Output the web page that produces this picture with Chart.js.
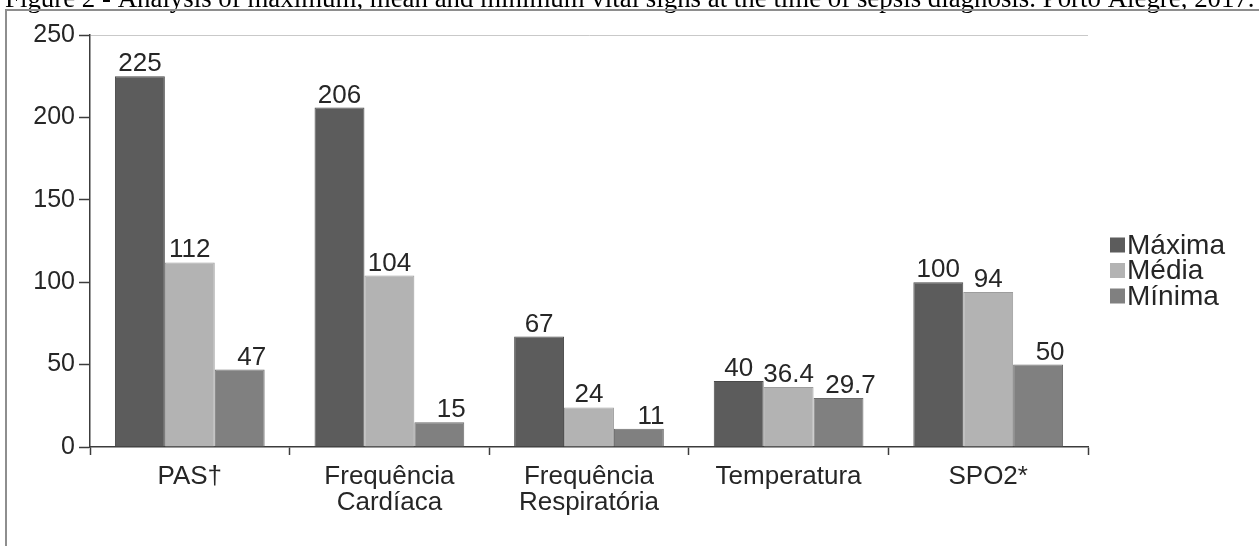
<!DOCTYPE html>
<html>
<head>
<meta charset="utf-8">
<script src="https://cdn.jsdelivr.net/npm/chart.js@4"></script>
<style>
  html, body { margin: 0; padding: 0; background: #fff; overflow: hidden; }
  #wrap { position: relative; width: 1259px; height: 546px; }
  canvas { display: block; }
</style>
</head>
<body>
<div id="wrap"><canvas id="c" width="1259" height="546"></canvas></div>
<script>
// Vital signs at sepsis diagnosis
const categories = [["PAS†"], ["Frequência", "Cardíaca"], ["Frequência", "Respiratória"], ["Temperatura"], ["SPO2*"]];
const seriesNames = ["Máxima", "Média", "Mínima"];
const maxima = [225, 206, 67, 40, 100];
const media = [112, 104, 24, 36.4, 94];
const minima = [47, 15, 11, 29.7, 50];
const yTicks = [0, 50, 100, 150, 200, 250];
const titleText = "Figure 2 - Analysis of maximum, mean and minimum vital signs at the time of sepsis diagnosis. Porto Alegre, 2017.";

const FONT = "'Liberation Sans', Arial, sans-serif";
const TEXT = '#262626';
const AXIS = '#3c3c3c';

// caption and outer frame
const framePlugin = {
  id: 'frame',
  beforeDraw(chart) {
    const ctx = chart.ctx;
    ctx.save();
    ctx.fillStyle = '#fff';
    ctx.fillRect(0, 0, chart.width, chart.height);
    let size = 22;
    ctx.font = size + "px 'Liberation Serif', 'Times New Roman', serif";
    const w = ctx.measureText(titleText).width;
    size = size * 1250 / w;
    ctx.font = size + "px 'Liberation Serif', 'Times New Roman', serif";
    ctx.fillStyle = '#000';
    ctx.textBaseline = 'alphabetic';
    ctx.textAlign = 'left';
    ctx.fillText(titleText, 5, 7);
    ctx.strokeStyle = '#8e8e8e';
    ctx.lineWidth = 2;
    ctx.beginPath();
    ctx.moveTo(5, 10);
    ctx.lineTo(chart.width, 10);
    ctx.moveTo(6, 10);
    ctx.lineTo(6, chart.height);
    ctx.stroke();
    ctx.restore();
  }
};

// value labels above each bar
const valueLabels = {
  id: 'valueLabels',
  afterDatasetsDraw(chart) {
    const ctx = chart.ctx;
    ctx.save();
    ctx.font = '26px ' + FONT;
    ctx.fillStyle = TEXT;
    ctx.textAlign = 'center';
    ctx.textBaseline = 'alphabetic';
    chart.data.datasets.forEach((ds, i) => {
      const meta = chart.getDatasetMeta(i);
      meta.data.forEach((bar, j) => {
        const v = ds.data[j];
        ctx.fillText(String(v), bar.x + (ds.labelShift || 0), bar.y - 5);
      });
    });
    ctx.restore();
  }
};

// legend at the right of the plot
const sideLegend = {
  id: 'sideLegend',
  afterDraw(chart) {
    const ctx = chart.ctx;
    ctx.save();
    ctx.font = '28px ' + FONT;
    ctx.textBaseline = 'middle';
    ctx.textAlign = 'left';
    const x = 1110, y0 = 245, step = 25.5, box = 15;
    chart.data.datasets.forEach((ds, i) => {
      const y = y0 + i * step;
      ctx.fillStyle = ds.backgroundColor;
      ctx.fillRect(x, y - box / 2, box, box);
      ctx.fillStyle = TEXT;
      ctx.fillText(ds.label, x + box + 2, y + 1);
    });
    ctx.restore();
  }
};

new Chart(document.getElementById('c'), {
  type: 'bar',
  data: {
    labels: categories,
    datasets: [
      { label: seriesNames[0], data: maxima, backgroundColor: '#5c5c5c', borderColor: '#4a4a4a', borderWidth: 1 },
      { label: seriesNames[1], data: media, backgroundColor: '#b3b3b3', borderColor: '#9d9d9d', borderWidth: 1 },
      { label: seriesNames[2], data: minima, backgroundColor: '#808080', borderColor: '#6c6c6c', borderWidth: 1, labelShift: 12 }
    ]
  },
  options: {
    responsive: false,
    animation: false,
    devicePixelRatio: 1,
    layout: { padding: { top: 35, right: 171, left: 0, bottom: 0 } },
    datasets: { bar: { categoryPercentage: 0.75, barPercentage: 1 } },
    plugins: {
      legend: { display: false },
      tooltip: { enabled: false },
      title: { display: false }
    },
    scales: {
      x: {
        afterFit(s) { s.height = 99; },
        grid: { offset: true, drawOnChartArea: false, drawTicks: true, tickLength: 8, tickColor: AXIS, tickWidth: 1.5 },
        border: { display: true, color: AXIS, width: 1.5 },
        ticks: { color: TEXT, padding: 9, font: { family: FONT, size: 26, lineHeight: 1.0 }, maxRotation: 0, autoSkip: false }
      },
      y: {
        min: 0,
        max: 250,
        afterFit(s) { s.width = 90; },
        afterBuildTicks(s) { s.ticks = yTicks.map(v => ({ value: v })); },
        grid: {
          drawOnChartArea: true,
          drawTicks: true,
          tickLength: 11,
          tickColor: AXIS,
          tickWidth: 1.5,
          color: c => (c.tick && c.tick.value === 250 ? '#c9c9c9' : 'rgba(0,0,0,0)')
        },
        border: { display: true, color: AXIS, width: 1.5 },
        ticks: { color: TEXT, padding: 4, font: { family: FONT, size: 25 } }
      }
    }
  },
  plugins: [framePlugin, valueLabels, sideLegend]
});
</script>
</body>
</html>
